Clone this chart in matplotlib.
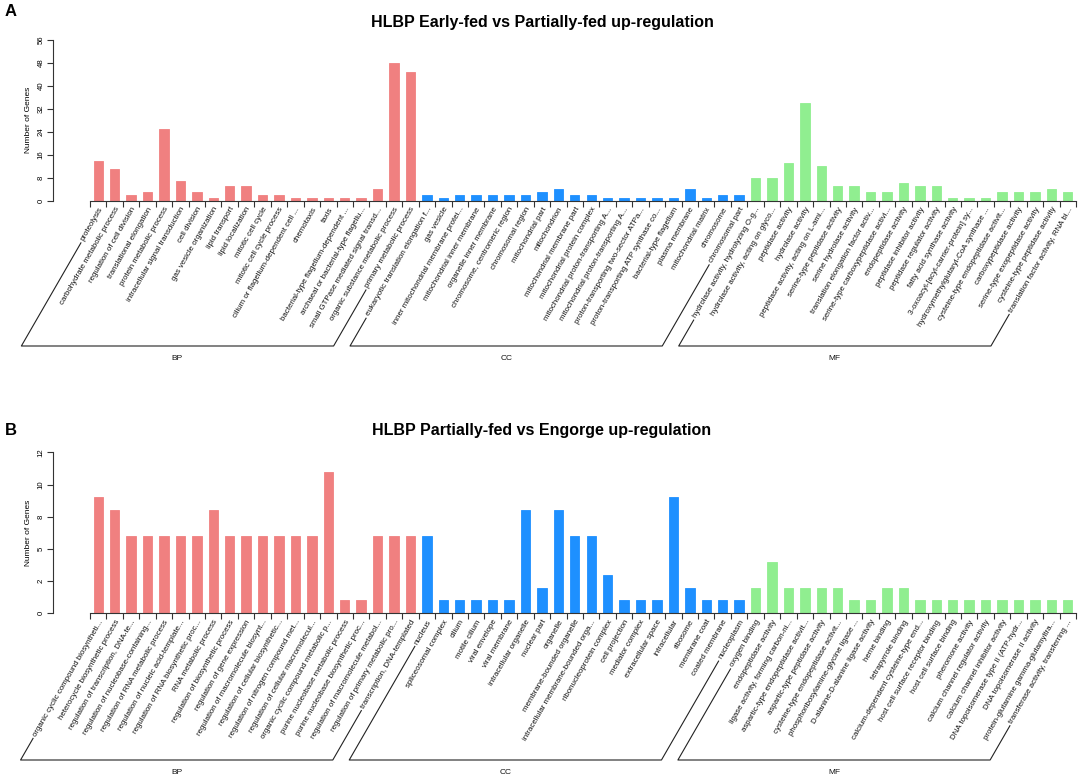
import numpy as np
import matplotlib
matplotlib.use("Agg")
import matplotlib.pyplot as plt
from matplotlib.lines import Line2D

plt.rcParams['font.family'] = ['Liberation Sans', 'DejaVu Sans']

# ---------------- Data: panel A ----------------
a_bp_terms = ["proteolysis", "carbohydrate metabolic process", "regulation of cell division",
              "translational elongation", "protein metabolic process", "intracellular signal transduction",
              "cell division", "gas vesicle organization", "lipid transport", "lipid localization",
              "mitotic cell cycle", "mitotic cell cycle process", "cilium or flagellum-dependent cell ...",
              "chemotaxis", "taxis", "bacterial-type flagellum-dependent ...",
              "archaeal or bacterial-type flagellu...", "small GTPase mediated signal transd...",
              "organic substance metabolic process", "primary metabolic process"]
a_bp_counts = [14, 11, 2, 3, 25, 7, 3, 1, 5, 5, 2, 2, 1, 1, 1, 1, 1, 4, 48, 45]

a_cc_terms = ["eukaryotic translation elongation f...", "gas vesicle", "inner mitochondrial membrane protei...",
              "mitochondrial inner membrane", "organelle inner membrane", "chromosome, centromeric region",
              "chromosomal region", "mitochondrial part", "mitochondrion", "mitochondrial membrane part",
              "mitochondrial protein complex", "mitochondrial proton-transporting A...",
              "mitochondrial proton-transporting A...", "proton-transporting two-sector ATPa...",
              "proton-transporting ATP synthase co...", "bacterial-type flagellum", "plasma membrane",
              "mitochondrial matrix", "chromosome", "chromosomal part"]
a_cc_counts = [2, 1, 2, 2, 2, 2, 2, 3, 4, 2, 2, 1, 1, 1, 1, 1, 4, 1, 2, 2]

a_mf_terms = ["hydrolase activity, hydrolyzing O-g...", "hydrolase activity, acting on glyco...",
              "peptidase activity", "hydrolase activity", "peptidase activity, acting on L-ami...",
              "serine-type peptidase activity", "serine hydrolase activity",
              "translation elongation factor activ...", "serine-type carboxypeptidase activi...",
              "endopeptidase activity", "peptidase inhibitor activity", "peptidase regulator activity",
              "fatty acid synthase activity", "3-oxoacyl-[acyl-carrier-protein] sy...",
              "hydroxymethylglutaryl-CoA synthase ...", "cysteine-type endopeptidase activit...",
              "carboxypeptidase activity", "serine-type exopeptidase activity",
              "cysteine-type peptidase activity", "translation factor activity, RNA bi..."]
a_mf_counts = [8, 8, 13, 34, 12, 5, 5, 3, 3, 6, 5, 5, 1, 1, 1, 3, 3, 3, 4, 3]

a_yticks = [0, 8, 16, 24, 32, 40, 48, 56]
a_yticklabels = ["0", "8", "16", "24", "32", "40", "48", "56"]

# ---------------- Data: panel B ----------------
b_bp_terms = ["organic cyclic compound biosyntheti...", "heterocycle biosynthetic process",
              "regulation of transcription, DNA-te...", "regulation of nucleobase-containing...",
              "regulation of RNA metabolic process", "regulation of nucleic acid-template...",
              "regulation of RNA biosynthetic proc...", "RNA metabolic process",
              "regulation of biosynthetic process", "regulation of gene expression",
              "regulation of macromolecule biosynt...", "regulation of cellular biosynthetic...",
              "regulation of nitrogen compound met...", "regulation of cellular macromolecul...",
              "organic cyclic compound metabolic p...", "purine nucleobase metabolic process",
              "purine nucleobase biosynthetic proc...", "regulation of macromolecule metabol...",
              "regulation of primary metabolic pro...", "transcription, DNA-templated"]
b_bp_counts = [9, 8, 6, 6, 6, 6, 6, 8, 6, 6, 6, 6, 6, 6, 11, 1, 1, 6, 6, 6]

b_cc_terms = ["nucleus", "spliceosomal complex", "cilium", "motile cilium", "viral envelope",
              "viral membrane", "intracellular organelle", "nuclear part", "organelle",
              "membrane-bounded organelle", "intracellular membrane-bounded orga...",
              "ribonucleoprotein complex", "cell projection", "mediator complex",
              "extracellular space", "intracellular", "ribosome", "membrane coat",
              "coated membrane", "nucleoplasm"]
b_cc_counts = [6, 1, 1, 1, 1, 1, 8, 2, 8, 6, 6, 3, 1, 1, 1, 9, 2, 1, 1, 1]

b_mf_terms = ["oxygen binding", "endopeptidase activity", "ligase activity, forming carbon-ni...",
              "aspartic-type endopeptidase activit...", "aspartic-type peptidase activity",
              "cysteine-type endopeptidase activit...", "phosphoribosylamine-glycine ligase ...",
              "D-alanine-D-alanine ligase activity", "heme binding", "tetrapyrrole binding",
              "calcium-dependent cysteine-type end...", "host cell surface receptor binding",
              "host cell surface binding", "pheromone activity", "calcium channel regulator activity",
              "calcium channel inhibitor activity", "DNA topoisomerase type II (ATP-hydr...",
              "DNA topoisomerase II activity", "protein-glutamine gamma-glutamyltra...",
              "transferase activity, transferring ..."]
b_mf_counts = [2, 4, 2, 2, 2, 2, 1, 1, 2, 2, 1, 1, 1, 1, 1, 1, 1, 1, 1, 1]

b_yticks = [0, 2.5, 5, 7.5, 10, 12.5]
b_yticklabels = ["0", "2", "5", "8", "10", "12"]

group_names = ["BP", "CC", "MF"]
group_colors = ["#F08080", "#1E90FF", "#90EE90"]

W, H = 1084, 780
fig = plt.figure(figsize=(W / 100, H / 100), dpi=100)
fig.patch.set_facecolor("white")

ANG = np.deg2rad(60)
CA, SA = np.cos(ANG), np.sin(ANG)


def panel(ax_bottom_px, ax_top_px, ymax, yticks, yticklabels, groups, base_px, title, title_px, letter, letter_px):
    # px measured from top of image
    left_px, right_px = 53, 1076
    ax = fig.add_axes([left_px / W, 1 - ax_bottom_px / H, (right_px - left_px) / W,
                       (ax_bottom_px - ax_top_px) / H])
    terms = [t for g in groups for t in g[0]]
    counts = [c for g in groups for c in g[1]]
    colors = [group_colors[k] for k, g in enumerate(groups) for _ in g[0]]
    n = len(terms)
    x = np.arange(n)
    spacing_px = (right_px - 90) / n
    xl = -0.5 - (90 - left_px) / spacing_px
    ax.set_xlim(xl, n - 0.5)
    ax.set_ylim(0, ymax)
    ax.bar(x, counts, width=0.57, color=colors, edgecolor=colors, linewidth=0.6)
    for s in ["top", "right"]:
        ax.spines[s].set_visible(False)
    ax.spines["bottom"].set_bounds(-0.5, n - 0.5)
    ax.spines["left"].set_bounds(0, ymax)
    for s in ["bottom", "left"]:
        ax.spines[s].set_linewidth(0.8)
        ax.spines[s].set_color("#333333")
    ax.set_xticks(np.arange(n + 1) - 0.5)
    ax.set_xticklabels([])
    ax.tick_params(axis="x", length=4, width=0.8, color="#333333")
    ax.set_yticks(yticks)
    ax.set_yticklabels(yticklabels, rotation=90, va="center", fontsize=5.6)
    ax.tick_params(axis="y", length=4, width=0.8, color="#333333", pad=2)
    ax.set_ylabel("Number of Genes", fontsize=6, labelpad=4)
    ax.patch.set_alpha(0)

    texts = []
    for i, t in enumerate(terms):
        tx = ax.annotate(t, xy=(i, 0), xytext=(3, -7), textcoords="offset pixels",
                         ha="right", va="center", rotation=0, rotation_mode="anchor",
                         fontsize=5.7, color="#111111")
        texts.append(tx)
    fig.canvas.draw()
    widths = [tx.get_window_extent().width for tx in texts]
    for tx in texts:
        tx.set_rotation(60)

    # brackets
    y_base = H - base_px
    idx = 0
    for k, g in enumerate(groups):
        a = idx
        b = idx + len(g[0]) - 1
        idx += len(g[0])
        pts = []
        for j in (a, b):
            ax_disp = ax.transData.transform((j, 0))
            anc = np.array([ax_disp[0] + 3, ax_disp[1] - 7])
            gap = 3
            p = anc - (widths[j] + gap) * np.array([CA, SA])
            tlen = (p[1] - y_base) / SA
            q = p - tlen * np.array([CA, SA])
            pts.append((p, q))
        (pa, qa), (pb, qb) = pts
        xs = [pa[0], qa[0], qb[0], pb[0]]
        ys = [pa[1], qa[1], qb[1], pb[1]]
        fig.add_artist(Line2D(np.array(xs) / W, np.array(ys) / H, transform=fig.transFigure,
                              color="#222222", linewidth=0.8))
        fig.text((qa[0] + qb[0]) / 2 / W, (y_base - 12) / H, group_names[k], ha="center",
                 va="center", fontsize=6, color="#111111")

    fig.text(0.5, 1 - title_px / H, title, ha="center", va="center", fontsize=11.5,
             fontweight="bold")
    fig.text(letter_px[0] / W, 1 - letter_px[1] / H, letter, ha="left", va="center",
             fontsize=12, fontweight="bold")
    return ax


panel(200.7, 40, 56, a_yticks, a_yticklabels,
      [(a_bp_terms, a_bp_counts), (a_cc_terms, a_cc_counts), (a_mf_terms, a_mf_counts)],
      346, "HLBP Early-fed vs Partially-fed up-regulation", 22, "A", (5, 12))

panel(613.3, 452.3, 12.5, b_yticks, b_yticklabels,
      [(b_bp_terms, b_bp_counts), (b_cc_terms, b_cc_counts), (b_mf_terms, b_mf_counts)],
      760, "HLBP Partially-fed vs Engorge up-regulation", 431, "B", (5, 430))

fig.savefig("out.png", dpi=100, facecolor="white")
